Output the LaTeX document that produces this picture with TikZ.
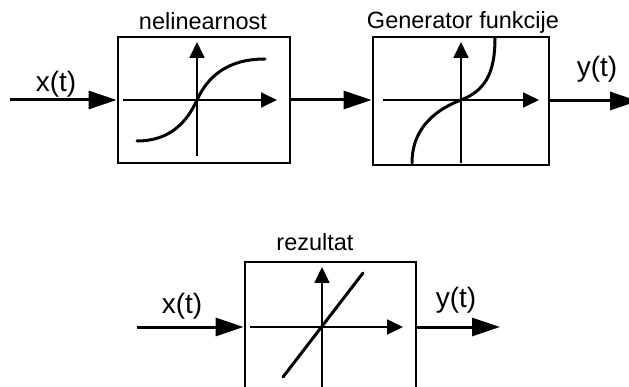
\documentclass[tikz,border=0pt]{standalone}
\usepackage{fontspec}
\setmainfont{Liberation Sans}
\usetikzlibrary{arrows.meta}
\begin{document}
\begin{tikzpicture}[x=1pt,y=-1pt,
  blockbox/.style={draw,line width=2.8pt,rectangle,inner sep=0pt},
  sig/.style={line width=3pt,-{Triangle[length=28pt,width=18pt]}},
  axis/.style={line width=1.8pt,-{Triangle[length=16pt,width=15pt]}},
  curve/.style={line width=3pt,line cap=round},
  title/.style={anchor=base,inner sep=0pt,font=\fontsize{23.5}{27}\selectfont},
  siglabel/.style={anchor=base,inner sep=0pt,font=\fontsize{28}{32}\selectfont}]
\useasboundingbox (0,0) rectangle (629,387);
% blocks
\node[blockbox,minimum width=172pt,minimum height=126pt] (b1) at (204,100) {};
\node[blockbox,minimum width=176pt,minimum height=128pt] (b2) at (461,101) {};
\node[blockbox,minimum width=171pt,minimum height=130pt] (b3) at (330.5,327) {};
% titles
\node[title] (t1) at (203,30) {nelinearnost};
\node[title] (t2) at (463,29) {Generator funkcije};
\node[title] (t3) at (315,251) {rezultat};
% signal labels
\node[siglabel] (x1) at (56,92) {x(t)};
\node[siglabel] (y1) at (597,77) {y(t)};
\node[siglabel] (x2) at (182,313) {x(t)};
\node[siglabel] (y2) at (456,308) {y(t)};
% coordinates
\coordinate (in1) at (10,100);
\coordinate (out1) at (638,101);
\coordinate (in2) at (137,327);
\coordinate (out2) at (500,327);
% connectors
\draw[sig] (in1) -- (b1.west);
\draw[sig] (b1.east) -- (b1.east -| b2.west);
\draw[sig] (b2.east) -- (out1);
\draw[sig] (in2) -- (b3.west);
\draw[sig] (b3.east) -- (out2);
% axes box 1
\coordinate (h1a) at (123,100); \coordinate (h1b) at (277,100);
\coordinate (v1a) at (197,156); \coordinate (v1b) at (197,42);
\draw[axis] (h1a) -- (h1b);
\draw[axis] (v1a) -- (v1b);
\draw[curve] (137,141) .. controls (170,141) and (187,122) .. (197,100)
  .. controls (207,78) and (226,59) .. (265,59);
% axes box 2
\coordinate (h2a) at (383,100); \coordinate (h2b) at (539,100);
\coordinate (v2a) at (461,163); \coordinate (v2b) at (461,42);
\draw[axis] (h2a) -- (h2b);
\draw[axis] (v2a) -- (v2b);
\draw[curve] (412,163) .. controls (412,125) and (440,108) .. (461,100)
  .. controls (484,91) and (495,75) .. (495,38);
% axes box 3
\coordinate (h3a) at (250,327); \coordinate (h3b) at (403,327);
\coordinate (v3a) at (322,392); \coordinate (v3b) at (322,267);
\draw[axis] (h3a) -- (h3b);
\draw[axis] (v3a) -- (v3b);
\draw[curve] (283,377) -- (363,273);
\end{tikzpicture}
\end{document}
